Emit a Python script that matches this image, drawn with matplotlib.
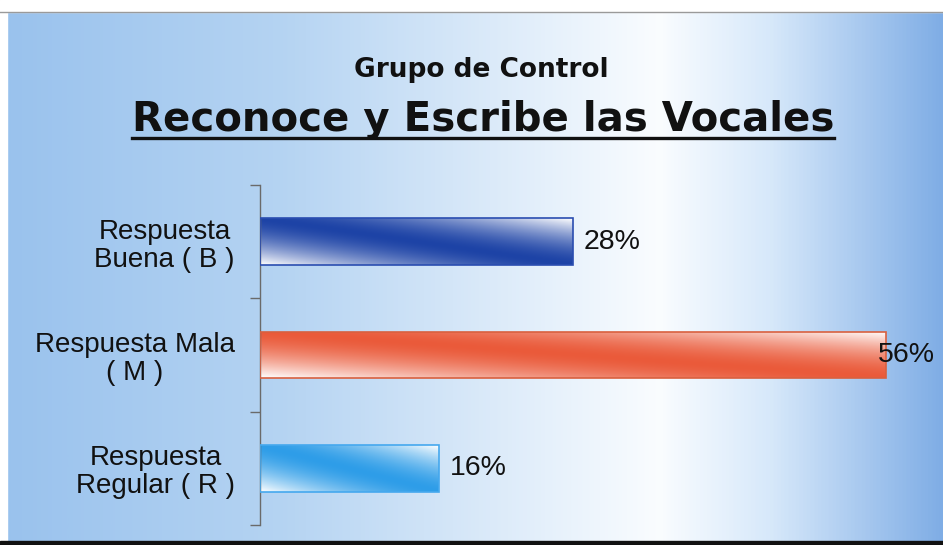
import numpy as np
import matplotlib
matplotlib.use("Agg")
import matplotlib.pyplot as plt
from matplotlib.colors import LinearSegmentedColormap, to_rgb
from matplotlib.lines import Line2D
from matplotlib.patches import Rectangle

# ======================================
# Datos
# ======================================

categorias = ["Respuesta\nBuena ( B )", "Respuesta Mala\n( M )", "Respuesta\nRegular ( R )"]
valores = [0.28, 0.56, 0.16]
etiquetas = ["28%", "56%", "16%"]

color_oscuro = ["#1d43a6", "#ea5a3a", "#2e9de8"]
color_borde = ["#2a4db0", "#d9603f", "#45a8ee"]

titulo_sup = "Grupo de Control"
titulo = "Reconoce y Escribe las Vocales"

plt.rcParams["font.family"] = ["Liberation Sans", "DejaVu Sans"]

W, H = 943, 545
fig = plt.figure(figsize=(W / 100, H / 100), dpi=100)

# ======================================
# Fondo degradado
# ======================================

bg = fig.add_axes([0, 0, 1, 1], zorder=0)
fondo_cmap = LinearSegmentedColormap.from_list(
    "fondo",
    [(0.0, (0.60, 0.76, 0.93)),
     (0.30, (0.71, 0.83, 0.95)),
     (0.70, (0.98, 0.99, 1.00)),
     (0.82, (0.84, 0.91, 0.98)),
     (1.0, (0.50, 0.68, 0.90))]
)
grad = np.linspace(0, 1, 512)[None, :]
bg.imshow(grad, cmap=fondo_cmap, aspect="auto", extent=[0, 1, 0, 1])
bg.set_xlim(0, 1)
bg.set_ylim(0, 1)
bg.axis("off")

# franja blanca superior, borde izquierdo y linea inferior
bg.add_patch(Rectangle((0, 1 - 12 / H), 1, 12 / H, color="white", zorder=3))
bg.add_patch(Rectangle((0, 0), 7 / W, 1, color="white", zorder=3))
bg.plot([0, 1], [1 - 12 / H, 1 - 12 / H], color="#9a9a9a", lw=1, zorder=4)
bg.add_patch(Rectangle((0, 0), 1, 4 / H, color="#111111", zorder=4))

# ======================================
# Barras
# ======================================

ax = fig.add_axes([260 / W, 20 / H, 1 - 260 / W, 340 / H], zorder=1)
ax.patch.set_alpha(0)

ypos = np.arange(len(valores))[::-1]
bars = ax.barh(ypos, valores, height=0.41, facecolor="none", zorder=3)

for b, c_osc, c_bor in zip(bars, color_oscuro, color_borde):
    b.set_edgecolor(c_bor)
    b.set_linewidth(1.2)
    x0, y0 = b.get_x(), b.get_y()
    w, h = b.get_width(), b.get_height()
    u = np.linspace(0, 1, 300)[None, :]
    v = np.linspace(0, 1, 60)[:, None]
    s = u + v
    d = 1 - np.clip(np.abs(s - 1), 0, 1) ** 1.6
    d = d[..., None]
    rgb = (1 - d) * np.array([1.0, 1.0, 1.0]) + d * np.array(to_rgb(c_osc))
    im = ax.imshow(rgb, extent=[x0, x0 + w, y0, y0 + h], origin="lower",
                   aspect="auto", zorder=2, interpolation="bilinear")
    im.set_clip_path(b)

ax.set_xlim(0, 0.611)
ax.set_ylim(-0.5, 2.5)

# etiquetas de valor
lim_der = ax.transAxes.transform((1, 0))[0] - 8
for b, txt in zip(bars, etiquetas):
    xe = b.get_width()
    yc = b.get_y() + b.get_height() / 2
    t = ax.annotate(txt, (xe, yc), xytext=(8, 0), textcoords="offset points",
                    ha="left", va="center", fontsize=20.5, color="#111111", zorder=5)
    fig.canvas.draw()
    bb = t.get_window_extent()
    if bb.x1 > lim_der:
        t.set_position((-(bb.x1 - lim_der) / fig.dpi * 72 + 8, 0))

# ejes
for lado in ["top", "right", "bottom"]:
    ax.spines[lado].set_visible(False)
ax.spines["left"].set_color("#6a6a6a")
ax.spines["left"].set_linewidth(1)
ax.set_xticks([])
ax.set_yticks(ypos)
ax.set_yticklabels(categorias, fontsize=20, color="#111111",
                   multialignment="center", linespacing=1.1)
ax.tick_params(axis="y", which="major", length=0, pad=18)
ax.set_yticks([-0.5, 0.5, 1.5, 2.5], minor=True)
ax.tick_params(axis="y", which="minor", length=7, color="#6a6a6a", width=1)

# ======================================
# Titulos
# ======================================

fig.text(0.51, 1 - 77 / H, titulo_sup, ha="center", va="baseline",
         fontsize=19, fontweight="bold", color="#111111", family="DejaVu Sans")
t2 = fig.text(0.512, 1 - 131 / H, titulo, ha="center", va="baseline",
              fontsize=29, fontweight="bold", color="#111111", family="DejaVu Sans")
fig.canvas.draw()
bb = t2.get_window_extent().transformed(fig.transFigure.inverted())
fig.add_artist(Line2D([bb.x0, bb.x1], [1 - 138 / H, 1 - 138 / H],
                      transform=fig.transFigure, color="#111111", lw=2.4))

fig.savefig("out.png", dpi=100)
